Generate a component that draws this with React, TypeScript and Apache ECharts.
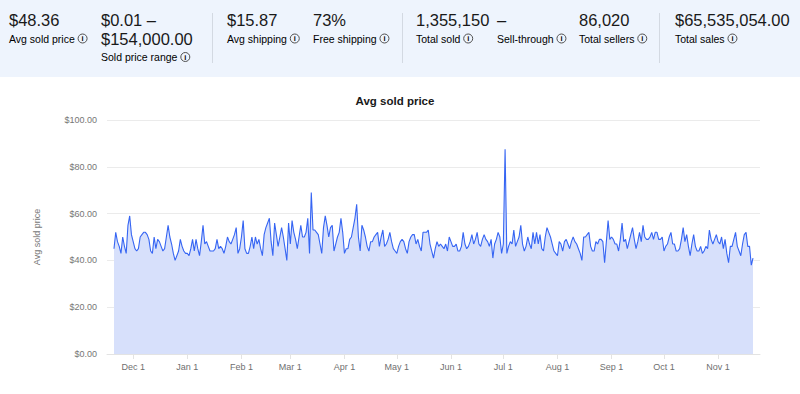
import React, { useEffect, useRef } from "react";
import * as echarts from "echarts";

// ---------- DATA ----------
const startDate = "2022-11-20"; // first daily point
const avgSoldPrice: number[] = [
  45, 52, 48, 46, 43, 50, 46, 43, 55, 59,
  51, 48, 45, 44, 45, 50, 51, 52, 52, 51,
  49, 44, 43, 50, 45, 49, 48, 46, 44, 45,
  50, 55, 50, 47, 43, 40, 42, 44, 49, 46,
  44, 43, 43, 42, 45, 49, 44, 49, 45, 42,
  48, 55, 47, 48, 46, 44, 44, 44, 45, 49,
  45, 46, 45, 43, 46, 50, 48, 47, 49, 51,
  54, 43, 45, 50, 57, 45, 43, 43, 46, 50,
  45, 50, 47, 49, 45, 42, 51, 54, 56, 58,
  48, 42, 56, 51, 46, 50, 54, 50, 45, 40,
  56, 47, 57, 52, 49, 45, 50, 55, 50, 50,
  52, 58, 43, 69, 53, 53, 52, 51, 47, 43,
  54, 59, 55, 50, 54, 55, 44, 47, 50, 52,
  58, 52, 43, 45, 45, 49, 50, 54, 58, 64,
  50, 44, 55, 53, 50, 46, 44, 48, 48, 50,
  51, 52, 46, 50, 53, 46, 47, 49, 52, 48,
  45, 44, 43, 46, 48, 49, 48, 45, 43, 48,
  50, 51, 51, 47, 49, 46, 44, 52, 52, 52,
  53, 47, 44, 41, 45, 48, 46, 47, 46, 45,
  47, 44, 50, 48, 46, 46, 47, 44, 44, 46,
  52, 47, 45, 46, 48, 51, 47, 49, 52, 47,
  46, 49, 51, 49, 48, 46, 49, 41, 47, 49,
  52, 50, 43, 47, 87.5, 43, 46, 48, 47, 53,
  46, 48, 50, 55, 47, 44, 46, 50, 47, 45,
  52, 47, 52, 47, 51, 45, 44, 50, 54, 52,
  50, 47, 44, 43, 42, 48, 47, 44, 48, 49,
  47, 45, 48, 50, 48, 47, 45, 43, 40, 50,
  50, 51, 52, 46, 44, 44, 48, 47, 49, 49,
  48, 39, 48, 57, 49, 50, 49, 47, 47, 44,
  49, 56, 48, 49, 45, 48, 51, 54, 49, 45,
  48, 52, 48, 55, 50, 49, 49, 50, 52, 49,
  52, 52, 49, 49, 50, 44, 46, 47, 50, 52,
  47, 47, 44, 44, 45, 49, 54, 48, 51, 46,
  42, 47, 51, 46, 44, 44, 46, 43, 44, 46,
  45, 53, 49, 47, 49, 51, 48, 47, 50, 45,
  49, 43, 39, 46, 46, 49, 52, 46, 44, 42,
  47, 51, 52, 46, 46, 38, 41,
];

const monthTickDates = [
  "2022-12-01", "2023-01-01", "2023-02-01", "2023-03-01", "2023-04-01", "2023-05-01",
  "2023-06-01", "2023-07-01", "2023-08-01", "2023-09-01", "2023-10-01", "2023-11-01",
];
const monthTickLabels = [
  "Dec 1", "Jan 1", "Feb 1", "Mar 1", "Apr 1", "May 1",
  "Jun 1", "Jul 1", "Aug 1", "Sep 1", "Oct 1", "Nov 1",
];
const yTicks = [0, 20, 40, 60, 80, 100];

const chartTitle = "Avg sold price";
const yAxisName = "Avg sold price";

const statValues = ["$48.36", "$0.01 –\n$154,000.00", "$15.87", "73%", "1,355,150", "–", "86,020", "$65,535,054.00"];
const statLabels = ["Avg sold price", "Sold price range", "Avg shipping", "Free shipping", "Total sold", "Sell-through", "Total sellers", "Total sales"];

// ---------- LAYOUT / STYLE ----------
const FONT = "'Liberation Sans', Arial, sans-serif";
const statX = [9, 101, 227, 313, 416, 497, 579, 675];
const dividerX = [212, 402, 659];
const DAY = 86400000;

function ts(d: string) {
  const [y, m, dd] = d.split("-").map(Number);
  return Date.UTC(y, m - 1, dd);
}

export default function App() {
  const ref = useRef<HTMLDivElement>(null);

  useEffect(() => {
    if (!ref.current) return;
    const chart = echarts.init(ref.current, undefined, { renderer: "svg" });

    const t0 = ts(startDate);
    const seriesData = avgSoldPrice.map((v, i) => [t0 + i * DAY, v]);
    const tEnd = t0 + (avgSoldPrice.length - 1) * DAY;
    const tickTs = monthTickDates.map(ts);
    const labelFor = (v: number) => {
      const idx = tickTs.findIndex((t) => Math.abs(t - v) < DAY / 2);
      return idx >= 0 ? monthTickLabels[idx] : "";
    };

    const graphics: any[] = [
      { type: "rect", silent: true, z: 0, shape: { x: 0, y: 0, width: 800, height: 77 }, style: { fill: "#eef4fd" } },
      ...dividerX.map((x) => ({
        type: "line", silent: true, z: 1,
        shape: { x1: x + 0.5, y1: 13, x2: x + 0.5, y2: 63 },
        style: { stroke: "#d3d9e2", lineWidth: 1 },
      })),
      {
        type: "text", z: 2, x: 395, y: 101,
        style: { text: chartTitle, fill: "#191919", font: `bold 11.5px ${FONT}`, textAlign: "center", textVerticalAlign: "middle" },
      },
    ];

    const richIcon = {
      t: { fontSize: 10.5, fontFamily: FONT, color: "#505050" },
      i: {
        width: 9, height: 9, borderRadius: 5, borderColor: "#505050", borderWidth: 1,
        align: "center", fontSize: 7.5, fontWeight: "bold", fontFamily: FONT, color: "#505050", lineHeight: 9,
      },
    };

    statValues.forEach((val, k) => {
      const lines = val.split("\n");
      lines.forEach((ln, j) => {
        graphics.push({
          type: "text", z: 2, x: statX[k], y: 20 + j * 19,
          style: { text: ln, fill: "#191919", font: `16.5px ${FONT}`, textAlign: "left", textVerticalAlign: "middle" },
        });
      });
      const labelY = lines.length > 1 ? 57 : 38.5;
      graphics.push({
        type: "text", z: 2, x: statX[k], y: labelY,
        style: {
          text: `{t|${statLabels[k]}} {i|i}`,
          rich: richIcon,
          textAlign: "left", textVerticalAlign: "middle",
        },
      });
    });

    chart.setOption({
      animation: false,
      backgroundColor: "#ffffff",
      textStyle: { fontFamily: FONT },
      grid: { left: 107, right: 40, top: 120, bottom: 40, containLabel: false },
      xAxis: {
        type: "value",
        min: t0 - 4 * DAY,
        max: tEnd + 4 * DAY,
        axisLine: { show: true, lineStyle: { color: "#e3e3e3", width: 1 } },
        axisTick: { show: true, customValues: tickTs, length: 5, lineStyle: { color: "#e3e3e3" } },
        axisLabel: { customValues: tickTs, formatter: (v: number) => labelFor(v), color: "#6f6f6f", fontSize: 9, margin: 8 },
        splitLine: { show: false },
      },
      yAxis: {
        type: "value",
        min: yTicks[0],
        max: yTicks[yTicks.length - 1],
        interval: yTicks[1] - yTicks[0],
        name: yAxisName,
        nameLocation: "middle",
        nameRotate: 90,
        nameGap: 66,
        nameTextStyle: { color: "#767676", fontSize: 9 },
        axisLine: { show: false },
        axisTick: { show: false },
        axisLabel: { formatter: (v: number) => "$" + v.toFixed(2), color: "#767676", fontSize: 9, margin: 10 },
        splitLine: { show: true, lineStyle: { color: "#ebebeb", width: 1 } },
      },
      series: [
        {
          type: "line",
          data: seriesData,
          showSymbol: false,
          symbol: "none",
          lineStyle: { color: "#3665f3", width: 1.1 },
          itemStyle: { color: "#3665f3" },
          areaStyle: { color: "#d7e0fb", opacity: 1 },
        },
      ],
      graphic: graphics,
    });

    return () => chart.dispose();
  }, []);

  return (
    <div
      ref={ref}
      style={{ position: "fixed", left: 0, top: 0, width: 800, height: 394, background: "#fff" }}
    />
  );
}
